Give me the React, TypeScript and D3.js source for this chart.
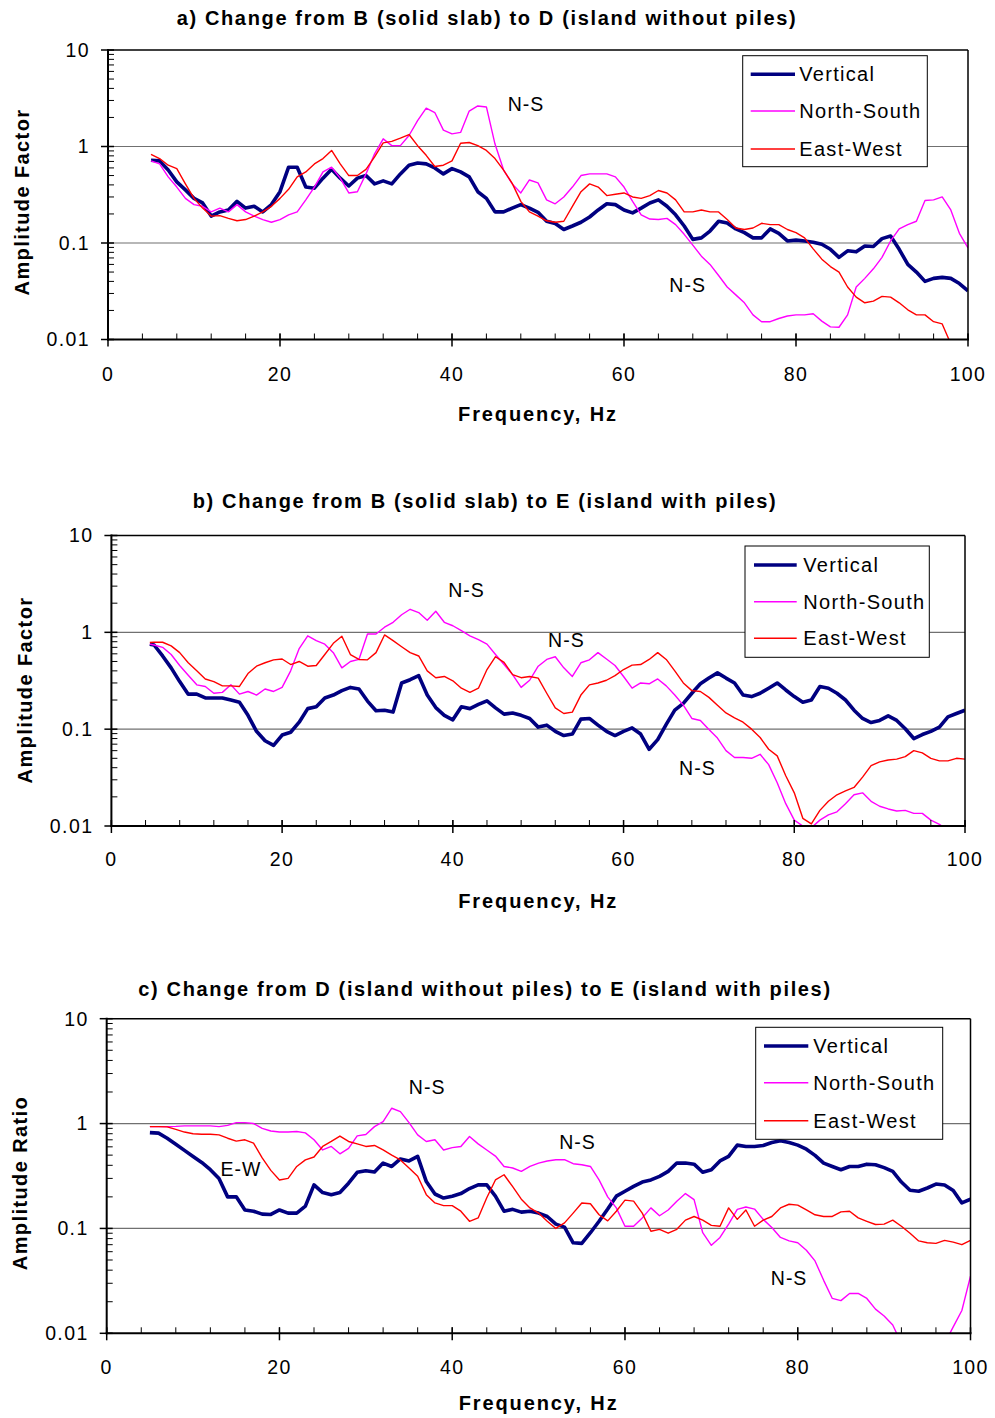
import React from 'react';
import * as d3 from 'd3';

const FONT = '"Liberation Sans", Arial, Helvetica, sans-serif';

const xTicks = [0, 20, 40, 60, 80, 100];
const yTicks = [0.01, 0.1, 1, 10];
const yTickLabels = ['0.01', '0.1', '1', '10'];
const seriesNames = ['Vertical', 'North-South', 'East-West'];
const seriesColors = ['#000080', '#ff00ff', '#ff0000'];

// frequencies, Hz
const freqA = d3.range(5, 101);
const freqB = [4.5, ...d3.range(5, 101)];
const freqC = d3.range(5, 101);

// a) B -> D
const aVertical = [0.72, 0.71, 0.57, 0.43, 0.355, 0.29, 0.26, 0.19, 0.21, 0.22, 0.27, 0.23, 0.24, 0.21, 0.25, 0.34,
  0.61, 0.61, 0.38, 0.37, 0.47, 0.58, 0.47, 0.39, 0.47, 0.5, 0.41, 0.44, 0.41, 0.52, 0.64, 0.675, 0.66, 0.6, 0.52,
  0.59, 0.545, 0.485, 0.34, 0.29, 0.21, 0.21, 0.23, 0.25, 0.23, 0.208, 0.168, 0.159, 0.138, 0.15, 0.164, 0.186,
  0.22, 0.255, 0.25, 0.22, 0.205, 0.23, 0.26, 0.28, 0.24, 0.196, 0.15, 0.109, 0.113, 0.133, 0.168, 0.161, 0.14,
  0.128, 0.113, 0.113, 0.14, 0.126, 0.105, 0.107, 0.105, 0.102, 0.097, 0.086, 0.071, 0.083, 0.081, 0.093, 0.092,
  0.111, 0.118, 0.086, 0.06, 0.05, 0.04, 0.043, 0.044, 0.043, 0.038, 0.032];
const aNorthSouth = [0.71, 0.66, 0.485, 0.38, 0.29, 0.25, 0.24, 0.21, 0.23, 0.21, 0.25, 0.21, 0.19, 0.175, 0.164,
  0.175, 0.196, 0.21, 0.28, 0.38, 0.545, 0.61, 0.47, 0.33, 0.34, 0.52, 0.84, 1.2, 1.02, 1.02, 1.3, 1.85, 2.5, 2.25,
  1.48, 1.35, 1.4, 2.33, 2.63, 2.57, 1.06, 0.57, 0.41, 0.33, 0.45, 0.42, 0.28, 0.255, 0.3, 0.38, 0.5, 0.52, 0.52,
  0.52, 0.485, 0.38, 0.27, 0.196, 0.177, 0.175, 0.18, 0.155, 0.123, 0.095, 0.073, 0.06, 0.046, 0.035, 0.029, 0.024,
  0.018, 0.0153, 0.0153, 0.0165, 0.0175, 0.018, 0.018, 0.0185, 0.0155, 0.0135, 0.0134, 0.018, 0.035, 0.043, 0.054,
  0.071, 0.105, 0.14, 0.155, 0.168, 0.276, 0.28, 0.3, 0.22, 0.126, 0.089];
const aEastWest = [0.83, 0.75, 0.64, 0.59, 0.41, 0.29, 0.23, 0.19, 0.192, 0.18, 0.17, 0.175, 0.19, 0.21, 0.24, 0.29,
  0.36, 0.485, 0.545, 0.66, 0.75, 0.91, 0.66, 0.5, 0.5, 0.58, 0.78, 1.09, 1.13, 1.22, 1.33, 1.02, 0.81, 0.62, 0.64,
  0.71, 1.08, 1.1, 1.02, 0.91, 0.75, 0.57, 0.415, 0.27, 0.21, 0.19, 0.17, 0.164, 0.168, 0.24, 0.34, 0.41, 0.38, 0.31,
  0.32, 0.33, 0.3, 0.29, 0.31, 0.35, 0.33, 0.28, 0.21, 0.21, 0.22, 0.21, 0.21, 0.175, 0.143, 0.138, 0.143, 0.16,
  0.155, 0.155, 0.138, 0.128, 0.113, 0.087, 0.068, 0.057, 0.05, 0.035, 0.0275, 0.024, 0.025, 0.028, 0.0275, 0.024,
  0.0203, 0.018, 0.018, 0.0153, 0.0145, 0.009, null, null];

// b) B -> E
const bVertical = [0.755, 0.74, 0.57, 0.43, 0.31, 0.23, 0.23, 0.21, 0.21, 0.21, 0.2, 0.19, 0.139, 0.095, 0.076, 0.068,
  0.087, 0.093, 0.118, 0.163, 0.17, 0.21, 0.225, 0.25, 0.27, 0.26, 0.195, 0.155, 0.157, 0.15, 0.3, 0.324, 0.357,
  0.225, 0.167, 0.139, 0.125, 0.17, 0.163, 0.18, 0.196, 0.166, 0.143, 0.147, 0.139, 0.129, 0.105, 0.11, 0.095, 0.086,
  0.089, 0.127, 0.129, 0.11, 0.095, 0.086, 0.095, 0.103, 0.089, 0.062, 0.078, 0.112, 0.157, 0.185, 0.235, 0.294,
  0.337, 0.381, 0.337, 0.3, 0.225, 0.217, 0.235, 0.265, 0.3, 0.254, 0.217, 0.19, 0.2, 0.276, 0.265, 0.235, 0.2,
  0.157, 0.129, 0.117, 0.123, 0.137, 0.123, 0.101, 0.08, 0.088, 0.095, 0.105, 0.134, 0.145, 0.157];
const bNorthSouth = [0.755, 0.74, 0.7, 0.59, 0.455, 0.36, 0.287, 0.276, 0.235, 0.24, 0.287, 0.23, 0.245, 0.225, 0.26,
  0.245, 0.27, 0.4, 0.68, 0.92, 0.82, 0.755, 0.617, 0.43, 0.5, 0.525, 0.96, 0.96, 1.13, 1.27, 1.52, 1.73, 1.6, 1.33,
  1.65, 1.27, 1.17, 1.04, 0.92, 0.84, 0.755, 0.59, 0.465, 0.366, 0.27, 0.32, 0.447, 0.525, 0.56, 0.43, 0.35, 0.485,
  0.52, 0.617, 0.53, 0.455, 0.35, 0.265, 0.3, 0.294, 0.33, 0.28, 0.225, 0.177, 0.129, 0.123, 0.099, 0.081, 0.06,
  0.051, 0.051, 0.05, 0.055, 0.043, 0.028, 0.017, 0.0115, 0.01, 0.0096, 0.0115, 0.013, 0.014, 0.017, 0.021, 0.022,
  0.018, 0.016, 0.015, 0.0143, 0.0145, 0.0135, 0.0135, 0.0115, 0.0104, 0.009, null, null];
const bEastWest = [0.786, 0.79, 0.79, 0.725, 0.617, 0.485, 0.4, 0.33, 0.31, 0.28, 0.28, 0.276, 0.375, 0.447, 0.485,
  0.52, 0.53, 0.465, 0.5, 0.447, 0.455, 0.59, 0.77, 0.91, 0.59, 0.525, 0.52, 0.617, 0.94, 0.82, 0.71, 0.617, 0.57,
  0.4, 0.34, 0.35, 0.316, 0.265, 0.24, 0.265, 0.413, 0.56, 0.49, 0.366, 0.34, 0.35, 0.337, 0.235, 0.166, 0.145, 0.15,
  0.225, 0.287, 0.3, 0.32, 0.357, 0.413, 0.458, 0.465, 0.525, 0.617, 0.525, 0.4, 0.3, 0.25, 0.245, 0.213, 0.177,
  0.147, 0.131, 0.118, 0.1, 0.082, 0.062, 0.053, 0.033, 0.022, 0.012, 0.0105, 0.0145, 0.018, 0.021, 0.023, 0.025,
  0.032, 0.042, 0.046, 0.048, 0.049, 0.052, 0.06, 0.057, 0.05, 0.047, 0.047, 0.05, 0.049];

// c) D -> E
const cVertical = [0.82, 0.81, 0.725, 0.636, 0.555, 0.486, 0.426, 0.363, 0.3, 0.2, 0.2, 0.15, 0.146, 0.137, 0.136,
  0.15, 0.14, 0.14, 0.163, 0.26, 0.22, 0.21, 0.22, 0.27, 0.343, 0.355, 0.345, 0.42, 0.39, 0.46, 0.44, 0.486, 0.28,
  0.213, 0.195, 0.203, 0.215, 0.24, 0.26, 0.26, 0.203, 0.146, 0.152, 0.143, 0.146, 0.14, 0.13, 0.11, 0.103, 0.073,
  0.072, 0.091, 0.117, 0.153, 0.203, 0.226, 0.252, 0.277, 0.29, 0.314, 0.35, 0.42, 0.42, 0.41, 0.343, 0.363, 0.44,
  0.486, 0.623, 0.605, 0.605, 0.618, 0.66, 0.685, 0.66, 0.623, 0.57, 0.497, 0.42, 0.39, 0.363, 0.39, 0.39, 0.41,
  0.405, 0.38, 0.35, 0.277, 0.231, 0.226, 0.243, 0.265, 0.26, 0.23, 0.175, 0.19];
const cNorthSouth = [0.935, 0.935, 0.935, 0.94, 0.95, 0.95, 0.95, 0.95, 0.935, 0.96, 1.02, 1.02, 1.0, 0.9, 0.85, 0.83,
  0.83, 0.84, 0.815, 0.7, 0.56, 0.605, 0.515, 0.58, 0.764, 0.786, 0.935, 1.045, 1.4, 1.3, 1.02, 0.78, 0.675, 0.7,
  0.56, 0.59, 0.605, 0.753, 0.64, 0.56, 0.49, 0.39, 0.377, 0.35, 0.39, 0.42, 0.44, 0.452, 0.452, 0.414, 0.405, 0.39,
  0.29, 0.2, 0.157, 0.105, 0.105, 0.126, 0.157, 0.132, 0.15, 0.182, 0.215, 0.188, 0.091, 0.069, 0.082, 0.11, 0.152,
  0.16, 0.153, 0.122, 0.102, 0.082, 0.076, 0.073, 0.062, 0.049, 0.032, 0.0215, 0.0205, 0.024, 0.024, 0.0215, 0.017,
  0.0146, 0.012, 0.008, null, null, null, null, 0.008, 0.0115, 0.0165, 0.035];
const cEastWest = [0.935, 0.935, 0.93, 0.88, 0.83, 0.8, 0.79, 0.79, 0.78, 0.725, 0.68, 0.7, 0.65, 0.47, 0.358, 0.29,
  0.3, 0.39, 0.45, 0.48, 0.605, 0.675, 0.76, 0.675, 0.64, 0.605, 0.618, 0.56, 0.5, 0.45, 0.377, 0.314, 0.21, 0.175,
  0.165, 0.165, 0.146, 0.117, 0.126, 0.196, 0.29, 0.325, 0.25, 0.19, 0.157, 0.14, 0.117, 0.1, 0.113, 0.14, 0.175,
  0.172, 0.135, 0.118, 0.146, 0.186, 0.182, 0.14, 0.094, 0.098, 0.09, 0.098, 0.12, 0.13, 0.12, 0.107, 0.105, 0.157,
  0.122, 0.15, 0.105, 0.12, 0.13, 0.157, 0.17, 0.167, 0.15, 0.135, 0.13, 0.13, 0.144, 0.146, 0.126, 0.117, 0.109,
  0.11, 0.12, 0.105, 0.09, 0.076, 0.073, 0.072, 0.077, 0.074, 0.07, 0.077];

// in-plot labels (frequency, amplitude)
const notesA = [{ text: 'N-S', f: 48.6, v: 2.74 }, { text: 'N-S', f: 67.4, v: 0.0365 }];
const notesB = [{ text: 'N-S', f: 41.6, v: 2.73 }, { text: 'N-S', f: 53.3, v: 0.833 }, { text: 'N-S', f: 68.65, v: 0.0398 }];
const notesC = [{ text: 'N-S', f: 37.1, v: 2.24 }, { text: 'N-S', f: 54.5, v: 0.67 }, { text: 'E-W', f: 15.55, v: 0.37 },
  { text: 'N-S', f: 79.0, v: 0.0339 }];

const panels = [
  {
    id: 'a', title: 'a) Change from B (solid slab) to D (island without piles)', yLabel: 'Amplitude Factor',
    freq: freqA, series: [aVertical, aNorthSouth, aEastWest], notes: notesA,
    x0: 108, x1: 968, y0: 50, y1: 339.5, titleX: 487, titleY: 18, tickY: 374, xLabelY: 414, yLabelX: 22, yLabelY: 202,
    legend: { x0: 742.7, x1: 927.3, y0: 55.7, y1: 166.7, rows: [74.3, 111, 149], l0: 750.7, l1: 795, tx: 799.3 },
  },
  {
    id: 'b', title: 'b) Change from B (solid slab) to E (island with piles)', yLabel: 'Amplitude Factor',
    freq: freqB, series: [bVertical, bNorthSouth, bEastWest], notes: notesB,
    x0: 111.4, x1: 965, y0: 535.5, y1: 826, titleX: 485, titleY: 501, tickY: 859, xLabelY: 901, yLabelX: 25, yLabelY: 690,
    legend: { x0: 745, x1: 929.3, y0: 546, y1: 657.3, rows: [565, 601.7, 638.3], l0: 754, l1: 796.7, tx: 803.3 },
  },
  {
    id: 'c', title: 'c) Change from D (island without piles) to E (island with piles)', yLabel: 'Amplitude Ratio',
    freq: freqC, series: [cVertical, cNorthSouth, cEastWest], notes: notesC,
    x0: 106.7, x1: 970.5, y0: 1018.7, y1: 1333.3, titleX: 485, titleY: 989, tickY: 1367, xLabelY: 1403, yLabelX: 20, yLabelY: 1183,
    legend: { x0: 755.7, x1: 942.7, y0: 1027.3, y1: 1139.3, rows: [1046, 1082.7, 1120.7], l0: 764, l1: 808.3, tx: 813.3 },
  },
];

type PanelDef = typeof panels[number];

function Panel({ p }: { p: PanelDef }) {
  const x = d3.scaleLinear().domain([0, 100]).range([p.x0, p.x1]);
  const y = d3.scaleLog().domain([0.01, 10]).range([p.y1, p.y0]);
  const line = d3.line<[number, number | null]>()
    .defined(d => d[1] != null)
    .x(d => x(d[0]))
    .y(d => y(d[1] as number));

  const minorY = y.ticks().filter(t => Math.abs(Math.log10(t) - Math.round(Math.log10(t))) > 1e-6);
  const minorX = d3.range(0, 101, 4);
  const clipId = `clip-${p.id}`;
  const widths = [3.6, 1.4, 1.4];

  return (
    <g>
      <defs>
        <clipPath id={clipId}>
          <rect x={p.x0} y={p.y0} width={p.x1 - p.x0} height={p.y1 - p.y0} />
        </clipPath>
      </defs>
      <text x={p.titleX} y={p.titleY} dy="0.35em" textAnchor="middle" fontWeight="bold" fontSize={20}
        letterSpacing={1.65}>{p.title}</text>

      {/* grid lines */}
      {[0.1, 1].map(g => (
        <line key={g} x1={p.x0} x2={p.x1} y1={y(g)} y2={y(g)} stroke="#707070" strokeWidth={1.2} />
      ))}

      {/* series */}
      <g clipPath={`url(#${clipId})`}>
        {p.series.map((s, i) => (
          <path key={i} d={line(p.freq.map((f, k) => [f, s[k]] as [number, number | null])) || ''}
            fill="none" stroke={seriesColors[i]} strokeWidth={widths[i]} strokeLinejoin="round" />
        ))}
      </g>

      {/* frame */}
      <line x1={p.x0} x2={p.x1} y1={p.y0} y2={p.y0} stroke="#000" strokeWidth={1.5} />
      <line x1={p.x1} x2={p.x1} y1={p.y0} y2={p.y1} stroke="#000" strokeWidth={1.5} />
      <line x1={p.x0} x2={p.x0} y1={p.y0 - 1} y2={p.y1 + 1} stroke="#000" strokeWidth={2} />
      <line x1={p.x0 - 1} x2={p.x1 + 1} y1={p.y1} y2={p.y1} stroke="#000" strokeWidth={2} />

      {/* y ticks */}
      {minorY.map(t => (
        <line key={`my${t}`} x1={p.x0} x2={p.x0 + 6} y1={y(t)} y2={y(t)} stroke="#000" strokeWidth={1} />
      ))}
      {yTicks.map((t, i) => (
        <g key={`y${t}`}>
          <line x1={p.x0 - 7} x2={p.x0 + 6} y1={y(t)} y2={y(t)} stroke="#000" strokeWidth={1.5} />
          <text x={p.x0 - 18} y={y(t)} dy="0.35em" textAnchor="end" fontSize={19.5} letterSpacing={1.4}>{yTickLabels[i]}</text>
        </g>
      ))}

      {/* x ticks */}
      {minorX.map(t => (
        <line key={`mx${t}`} x1={x(t)} x2={x(t)} y1={p.y1 - 6} y2={p.y1} stroke="#000" strokeWidth={1} />
      ))}
      {xTicks.map(t => (
        <g key={`x${t}`}>
          <line x1={x(t)} x2={x(t)} y1={p.y1 - 6} y2={p.y1 + 7} stroke="#000" strokeWidth={1.5} />
          <text x={x(t)} y={p.tickY} dy="0.35em" textAnchor="middle" fontSize={19.5} letterSpacing={1.4}>{t}</text>
        </g>
      ))}

      {/* axis titles */}
      <text x={(p.x0 + p.x1) / 2} y={p.xLabelY} dy="0.35em" textAnchor="middle" fontWeight="bold" fontSize={20}
        letterSpacing={1.9}>Frequency, Hz</text>
      <text transform={`translate(${p.yLabelX},${p.yLabelY}) rotate(-90)`} dy="0.35em" textAnchor="middle"
        fontWeight="bold" fontSize={20} letterSpacing={1.4}>{p.yLabel}</text>

      {/* in-plot labels */}
      {p.notes.map((n, i) => (
        <text key={i} x={x(n.f)} y={y(n.v)} dy="0.35em" textAnchor="middle" fontSize={19.5} letterSpacing={1}>{n.text}</text>
      ))}

      {/* legend */}
      <rect x={p.legend.x0} y={p.legend.y0} width={p.legend.x1 - p.legend.x0} height={p.legend.y1 - p.legend.y0}
        fill="#fff" stroke="#000" strokeWidth={1} />
      {seriesNames.map((name, i) => (
        <g key={name}>
          <line x1={p.legend.l0} x2={p.legend.l1} y1={p.legend.rows[i]} y2={p.legend.rows[i]}
            stroke={seriesColors[i]} strokeWidth={widths[i]} />
          <text x={p.legend.tx} y={p.legend.rows[i]} dy="0.35em" fontSize={20} letterSpacing={1.3}>{name}</text>
        </g>
      ))}
    </g>
  );
}

export default function App() {
  return (
    <svg width={995} height={1418} viewBox="0 0 995 1418"
      style={{ position: 'absolute', left: 0, top: 0, background: '#fff', fontFamily: FONT }}>
      <rect width={995} height={1418} fill="#fff" />
      {panels.map(p => <Panel key={p.id} p={p} />)}
    </svg>
  );
}
